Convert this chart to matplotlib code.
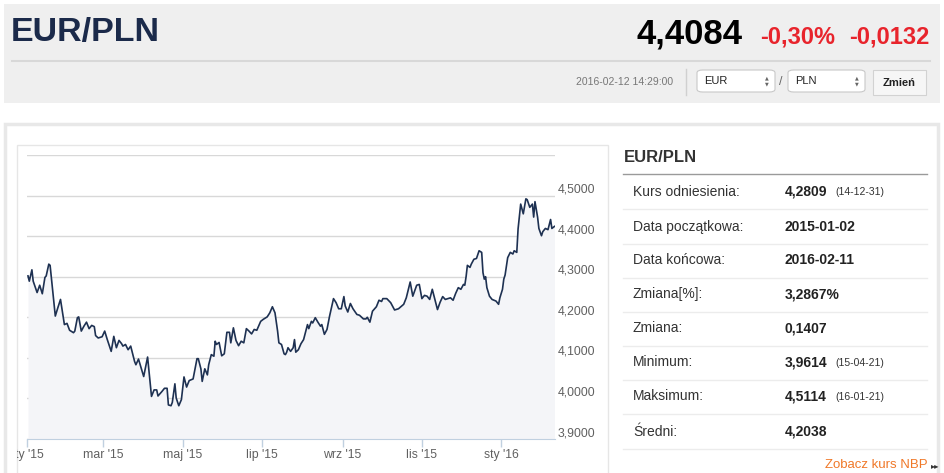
import pandas as pd
import numpy as np
import matplotlib.pyplot as plt
from matplotlib.patches import Rectangle, FancyBboxPatch
from matplotlib.transforms import Bbox, TransformedBbox

# EUR/PLN quotes, days counted from 2015-01-01
days = [1, 2, 4, 5, 8, 10, 12, 14, 15, 17, 18, 22, 24, 26, 29, 31, 33, 36, 37, 39,
        40, 42, 44, 46, 48, 50, 52, 53, 55, 58, 60, 62, 65, 67, 69, 71, 73, 74, 76, 78,
        80, 83, 84, 86, 90, 93, 96, 98, 100, 101,
        104, 106, 108, 109, 111, 112, 114, 115, 117, 119, 121, 123, 125, 128, 131, 132, 134, 135, 137, 139,
        140, 142, 144, 145, 146, 148, 150, 152, 154, 156, 157, 159, 161, 163, 165, 167, 169, 171, 173, 175,
        177, 180, 182, 185, 187, 189, 191, 193, 194, 196, 198, 199,
        200, 201, 203, 205, 206, 207, 209, 211, 213, 216, 217, 219, 220, 222, 224, 226, 227, 229, 231, 233,
        235, 236, 238, 240, 242, 244, 245, 247, 249, 251, 254, 256, 259, 261, 262, 264, 266, 269, 271, 273,
        274, 277, 280, 283, 286, 290, 292, 295, 297, 298, 300, 302,
        304, 306, 308, 310, 312, 314, 316, 318, 320, 322, 324, 326, 328, 330, 332, 334, 336, 337, 338, 339,
        341, 342, 344, 346, 348, 350, 351, 352, 353, 354, 356, 358, 361, 363, 364, 366, 367, 368, 370, 372,
        374, 375, 377, 378, 380, 381, 382, 384, 385, 387, 389, 390, 391, 393, 394, 396, 397, 399, 401, 403,
        404, 406]
rates = [4.302, 4.289, 4.317, 4.289, 4.261, 4.279, 4.258, 4.298, 4.302, 4.331,
         4.328, 4.203, 4.224, 4.244, 4.182, 4.185, 4.168, 4.162, 4.166, 4.199,
         4.201, 4.166, 4.178, 4.188, 4.172, 4.180, 4.177, 4.155, 4.149, 4.152,
         4.166, 4.145, 4.116, 4.153, 4.125, 4.143, 4.135, 4.129, 4.133, 4.120,
         4.129, 4.091, 4.083, 4.097, 4.054, 4.102, 4.005, 4.021, 4.021, 4.006,
         4.017, 4.025, 4.025, 3.984, 3.982, 3.990, 4.036, 4.001, 3.982, 3.997,
         4.053, 4.028, 4.044, 4.048, 4.098, 4.098, 4.073, 4.042, 4.073, 4.058,
         4.083, 4.108, 4.104, 4.141, 4.133, 4.138, 4.105, 4.110, 4.163, 4.163,
         4.137, 4.174, 4.143, 4.130, 4.141, 4.137, 4.172, 4.166, 4.159, 4.170,
         4.168, 4.190, 4.195, 4.201, 4.211, 4.226, 4.211, 4.166, 4.137, 4.133,
         4.110, 4.108,
         4.114, 4.125, 4.116, 4.125, 4.145, 4.114, 4.120, 4.135, 4.145, 4.182,
         4.172, 4.190, 4.186, 4.199, 4.188, 4.178, 4.182, 4.158, 4.170, 4.203,
         4.232, 4.246, 4.236, 4.221, 4.221, 4.251, 4.228, 4.213, 4.234, 4.221,
         4.207, 4.205, 4.196, 4.196, 4.200, 4.188, 4.215, 4.226, 4.242, 4.239,
         4.246, 4.246, 4.236, 4.218, 4.221, 4.232, 4.248, 4.287, 4.252, 4.261,
         4.279, 4.281,
         4.246, 4.254, 4.252, 4.244, 4.269, 4.244, 4.219, 4.237, 4.251, 4.244,
         4.246, 4.248, 4.242, 4.259, 4.273, 4.269, 4.281, 4.279, 4.300, 4.328,
         4.323, 4.331, 4.343, 4.345, 4.364, 4.360, 4.310, 4.294, 4.300, 4.273,
         4.252, 4.244, 4.240, 4.232, 4.248, 4.269, 4.294, 4.304, 4.347, 4.360,
         4.356, 4.364, 4.360, 4.418, 4.479, 4.467, 4.455, 4.492, 4.490, 4.471,
         4.479, 4.447, 4.485, 4.447, 4.419, 4.401, 4.411, 4.419, 4.416, 4.441,
         4.419, 4.424]

tick_dates = ["2015-01-01", "2015-03-01", "2015-05-01", "2015-07-01",
              "2015-09-01", "2015-11-01", "2016-01-01"]
tick_labels = ["sty '15", "mar '15", "maj '15", "lip '15", "wrz '15", "lis '15", "sty '16"]
y_ticks = [3.9, 4.0, 4.1, 4.2, 4.3, 4.4, 4.5, 4.6]

stat_labels = ["Kurs odniesienia:", "Data początkowa:", "Data końcowa:", "Zmiana[%]:",
               "Zmiana:", "Minimum:", "Maksimum:", "Średni:"]
stat_values = ["4,2809", "2015-01-02", "2016-02-11", "3,2867%", "0,1407", "3,9614", "4,5114", "4,2038"]
stat_notes = ["(14-12-31)", "", "", "", "", "(15-04-21)", "(16-01-21)", ""]

W, H = 945, 473
SANS = ["Liberation Sans", "DejaVu Sans"]


def fx(x):
    return x / W


def fy(y):
    return 1 - y / H


def box(x0, y0, x1, y1, **kw):
    r = Rectangle((fx(x0), fy(y1)), (x1 - x0) / W, (y1 - y0) / H,
                  transform=fig.transFigure, zorder=-2, **kw)
    fig.add_artist(r)
    return r


def txt(x, y, s, **kw):
    kw.setdefault("family", SANS)
    return fig.text(fx(x), fy(y), s, **kw)


fig = plt.figure(figsize=(W / 100, H / 100), dpi=100)
fig.patch.set_facecolor("white")

# header
box(4, 4, 940, 103, facecolor="#efefef", edgecolor="none")
txt(11, 33, "EUR/PLN", fontsize=24.5, weight="bold", color="#1b2a4a", va="center")
txt(743, 34, "4,4084", fontsize=25, weight="bold", color="black", va="center", ha="right")
txt(760, 37, "-0,30%", fontsize=17, weight="bold", color="#e8242c", va="center")
txt(849, 37, "-0,0132", fontsize=17, weight="bold", color="#e8242c", va="center")
fig.add_artist(plt.Line2D([fx(12), fx(930)], [fy(61), fy(61)], color="#d8d8d8",
                          lw=1.5, transform=fig.transFigure))
txt(673, 82, "2016-02-12 14:29:00", fontsize=7.5, color="#777777", va="center", ha="right")
fig.add_artist(plt.Line2D([fx(686), fx(686)], [fy(69), fy(95)], color="#d0d0d0",
                          lw=1, transform=fig.transFigure))
for x0, x1, cur in [(697, 775, "EUR"), (788, 865, "PLN")]:
    fig.add_artist(FancyBboxPatch((fx(x0), fy(92)), (x1 - x0) / W, 22 / H,
                                  boxstyle="round,pad=0,rounding_size=0.006",
                                  transform=fig.transFigure, facecolor="white",
                                  edgecolor="#c8c8c8", lw=0.8, zorder=-1))
    txt(x0 + 7, 81, cur, fontsize=8, color="#222222", va="center")
    txt(x1 - 8, 78, "▲", fontsize=3.5, color="#666666", va="center", ha="center",
        family=["DejaVu Sans"])
    txt(x1 - 8, 84, "▼", fontsize=3.5, color="#666666", va="center", ha="center",
        family=["DejaVu Sans"])
txt(781, 82, "/", fontsize=9, color="#666666", va="center", ha="center")
box(873, 70, 926, 95, facecolor="#f6f6f6", edgecolor="#d2d2d2", lw=0.8)
txt(899.5, 83, "Zmień", fontsize=8, weight="bold", color="#222222",
    va="center", ha="center")

# lower panel and chart frame
box(5.5, 124.5, 938.5, 490, facecolor="white", edgecolor="#e8e8e8", lw=2.5)
box(17, 145, 608, 490, facecolor="white", edgecolor="#e6e6e6", lw=1)

# chart
start = pd.Timestamp("2015-01-01")
dates = start + pd.to_timedelta(days, unit="D")
ax = fig.add_axes([fx(26.7), fy(439), (555 - 26.7) / W, (439 - 155) / H])
ax.set_zorder(5)
ax.set_facecolor("none")
ax.fill_between(dates, rates, 3.9, color="#f4f5f8", lw=0)
ax.plot(dates, rates, color="#1e3152", lw=1.2)
ax.set_xlim(start, start + pd.Timedelta(days=406.4))
ax.set_ylim(3.9, 4.6)

ax.set_yticks(y_ticks)
ax.set_yticklabels([f"{v:.4f}".replace(".", ",") for v in y_ticks[:-1]] + [""])
ax.yaxis.tick_right()
ax.tick_params(axis="y", length=0, pad=2, labelsize=8.8, labelcolor="#606060")
for lbl in ax.get_yticklabels():
    lbl.set_family(SANS)
    lbl.set_verticalalignment("bottom")
ax.grid(axis="y", color="#d8d8d8", lw=1)
ax.set_axisbelow(True)

ax.set_xticks(pd.to_datetime(tick_dates))
ax.set_xticklabels(tick_labels)
ax.tick_params(axis="x", length=6, width=1, color="#c0d0e0", pad=1.5,
               labelsize=8.8, labelcolor="#606060")
clip = TransformedBbox(Bbox.from_extents(fx(17), 0, fx(608), 1), fig.transFigure)
for lbl in ax.get_xticklabels():
    lbl.set_family(SANS)
    lbl.set_clip_box(clip)
    lbl.set_clip_on(True)
for side in ["top", "left", "right"]:
    ax.spines[side].set_visible(False)
ax.spines["bottom"].set_color("#c0d0e0")

# statistics table
txt(624, 158, "EUR/PLN", fontsize=12, weight="bold", color="#333333", va="center")
fig.add_artist(plt.Line2D([fx(623), fx(927)], [fy(174), fy(174)], color="#9a9a9a",
                          lw=1, transform=fig.transFigure))
row_y = [191.5, 226.5, 260.5, 294, 328.3, 362, 396.5, 431.5]
for i, (lab, val, note) in enumerate(zip(stat_labels, stat_values, stat_notes)):
    y = row_y[i]
    txt(633, y, lab, fontsize=10, color="#333333", va="center")
    txt(785, y, val, fontsize=10, weight="bold", color="#222222", va="center")
    if note:
        txt(835, y + 0.5, note, fontsize=7.5, color="#333333", va="center")
    sep = y + 17.5
    fig.add_artist(plt.Line2D([fx(623), fx(927)], [fy(sep), fy(sep)], color="#ececec",
                              lw=1, transform=fig.transFigure))
txt(928, 465, "Zobacz kurs NBP", fontsize=9.5, color="#f07828", va="center", ha="right")
txt(939, 465.5, "▸▸", fontsize=6, color="#333333", va="center", ha="right",
    family=["DejaVu Sans"])

fig.savefig("out.png", dpi=100)
